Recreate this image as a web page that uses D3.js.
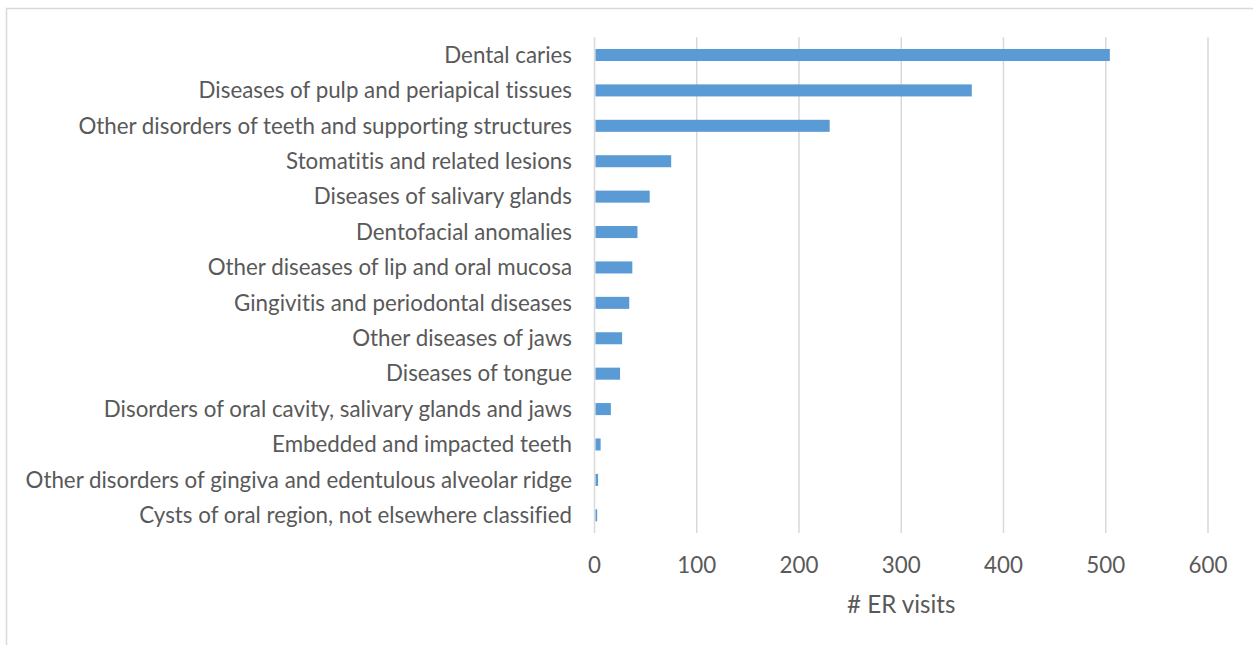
<!DOCTYPE html>
<html>
<head>
<meta charset="utf-8">
<script src="https://cdn.jsdelivr.net/npm/d3@7"></script>
<style>
  html, body { margin: 0; padding: 0; background: #fff; }
  svg { display: block; }
  text { font-variant-ligatures: none; font-feature-settings: "liga" 0, "clig" 0; }
</style>
</head>
<body>
<svg id="chart" width="1253" height="645"></svg>
<script>
// ER visits by oral-health diagnosis group
const categories = [
  "Dental caries",
  "Diseases of pulp and periapical tissues",
  "Other disorders of teeth and supporting structures",
  "Stomatitis and related lesions",
  "Diseases of salivary glands",
  "Dentofacial anomalies",
  "Other diseases of lip and oral mucosa",
  "Gingivitis and periodontal diseases",
  "Other diseases of jaws",
  "Diseases of tongue",
  "Disorders of oral cavity, salivary glands and jaws",
  "Embedded and impacted teeth",
  "Other disorders of gingiva and edentulous alveolar ridge",
  "Cysts of oral region, not elsewhere classified"
];
const visits = [504, 369, 230, 75, 54, 42, 37, 34, 27, 25, 16, 6, 3.5, 2.6];
const xTicks = [0, 100, 200, 300, 400, 500, 600];
const xTitle = "# ER visits";

const svg = d3.select("#chart");
const W = 1253, H = 645;
const FONT = "Lato, 'Open Sans', 'Liberation Sans', sans-serif";
const TEXT = "#595959";
const GRID = "#d9d9d9";
const BAR = "#5b9bd5";

// chart frame (top and left edges visible)
svg.append("path")
  .attr("d", `M6.5,${H} V8.5 H${W}`)
  .attr("fill", "none")
  .attr("stroke", GRID)
  .attr("stroke-width", 1.5);

const x = d3.scaleLinear().domain([0, 600]).range([594.5, 1208]);
const y = d3.scaleBand().domain(categories).range([37.3, 533]).paddingInner(0.66).paddingOuter(0.33);

// vertical gridlines
svg.append("g").selectAll("line").data(xTicks).join("line")
  .attr("x1", d => x(d)).attr("x2", d => x(d))
  .attr("y1", 37.3).attr("y2", 533)
  .attr("stroke", GRID).attr("stroke-width", 1.5);

// bars
svg.append("g").selectAll("rect").data(categories).join("rect")
  .attr("x", x(0) + 1)
  .attr("y", d => y(d))
  .attr("width", (d, i) => Math.max(0, x(visits[i]) - x(0) - 1))
  .attr("height", y.bandwidth())
  .attr("fill", BAR);

// category labels
const labels = svg.append("g").selectAll("text").data(categories).join("text")
  .attr("x", 572)
  .attr("y", d => y(d) + y.bandwidth() / 2)
  .attr("dy", "0.35em")
  .attr("text-anchor", "end")
  .attr("font-family", FONT)
  .attr("fill", TEXT)
  .attr("font-size", 19)
  .text(d => d);

// fit the label font so the longest label spans its column
let maxW = 0;
labels.each(function () { maxW = Math.max(maxW, this.getComputedTextLength()); });
const fs = 19 * 547 / maxW;
labels.attr("font-size", fs);

// x-axis tick labels
svg.append("g").selectAll("text").data(xTicks).join("text")
  .attr("x", d => x(d))
  .attr("y", 565)
  .attr("dy", "0.35em")
  .attr("text-anchor", "middle")
  .attr("font-family", FONT)
  .attr("fill", TEXT)
  .attr("font-size", fs)
  .text(d => d);

// axis title
svg.append("text")
  .attr("x", (x(0) + x(600)) / 2)
  .attr("y", 605)
  .attr("dy", "0.35em")
  .attr("text-anchor", "middle")
  .attr("font-family", FONT)
  .attr("fill", TEXT)
  .attr("font-size", fs * 1.08)
  .text(xTitle);
</script>
</body>
</html>
